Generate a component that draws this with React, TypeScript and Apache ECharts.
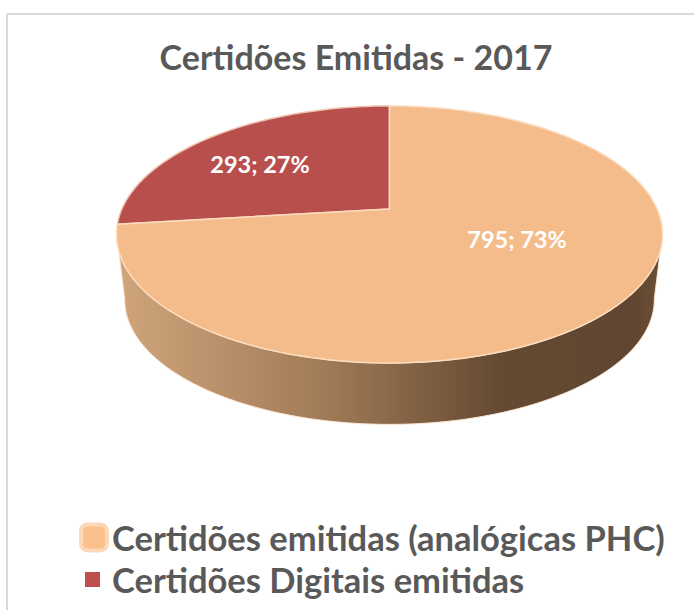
import React, { useEffect, useRef } from "react";
import * as echarts from "echarts";

const TITLE = "Certidões Emitidas - 2017";
const categories = ["Certidões emitidas (analógicas PHC)", "Certidões Digitais emitidas"];
const values = [795, 293];
const percents = [73, 27];

const sliceColors = ["#F5BC8B", "#B94F4C"];
const sliceEdges = ["#FCDDBF", "#EFC4B0"];
const FONT = "Lato, Carlito, 'Open Sans', sans-serif";

// Projective view of the pie's unit circle
const APEX = { x: 389.5, y: 209 };
const SCALE_X = 267.6;
const SCALE_Y = 123.5;
const TILT = 0.198;
const WALL_DROP = 66;
const WALL_SHRINK = 0.97;
const WALL_START = 101;
const WALL_END = 259;
const LABEL_ANCHORS = [
  { x: 517, y: 239 },
  { x: 260, y: 164 },
];

const total = values.reduce((a, b) => a + b, 0);

function project(deg: number, shrink = 1, drop = 0): number[] {
  const t = (deg * Math.PI) / 180;
  const ux = Math.sin(t);
  const uy = -Math.cos(t);
  const w = 1 - TILT * uy;
  return [
    APEX.x + (shrink * SCALE_X * ux) / w,
    APEX.y + (shrink * SCALE_Y * uy) / w + drop,
  ];
}

function arc(from: number, to: number, shrink = 1, drop = 0): number[][] {
  const pts: number[][] = [];
  const n = Math.max(2, Math.ceil(Math.abs(to - from)));
  for (let i = 0; i <= n; i++) pts.push(project(from + ((to - from) * i) / n, shrink, drop));
  return pts;
}

function sliceRenderer(index: number) {
  const startValue = values.slice(0, index).reduce((a, b) => a + b, 0);
  return (_params: any, api: any) => {
    const value = api.value(0);
    const a0 = (startValue / total) * 360;
    const a1 = ((startValue + value) / total) * 360;
    const children: any[] = [];
    const wallFrom = Math.max(a0, WALL_START);
    const wallTo = Math.min(a1, WALL_END);
    if (wallTo > wallFrom) {
      children.push({
        type: "polygon",
        shape: {
          points: [
            ...arc(wallFrom, wallTo),
            ...arc(wallTo, wallFrom, WALL_SHRINK, WALL_DROP),
          ],
        },
        style: {
          fill: new echarts.graphic.LinearGradient(1, 0, 0, 0, [
            { offset: 0, color: "#6C4E35" },
            { offset: 0.06, color: "#604630" },
            { offset: 0.3, color: "#654A33" },
            { offset: 0.62, color: "#A17B57" },
            { offset: 1, color: "#D0A57C" },
          ]),
          stroke: "#FBE6D3",
          lineWidth: 1,
        },
      });
    }
    children.push({
      type: "polygon",
      shape: { points: [[APEX.x, APEX.y], ...arc(a0, a1)] },
      style: { fill: sliceColors[index], stroke: sliceEdges[index], lineWidth: 1.5 },
    });
    children.push({
      type: "text",
      style: {
        text: `${value}; ${percents[index]}%`,
        x: LABEL_ANCHORS[index].x,
        y: LABEL_ANCHORS[index].y,
        fill: "#FFFFFF",
        font: `bold 23.5px ${FONT}`,
        align: "center",
        verticalAlign: "middle",
      },
    });
    return { type: "group", children };
  };
}

const legendText = { color: "#595959", fontSize: 34.5, fontWeight: "bold" as const, fontFamily: FONT };

export default function App() {
  const ref = useRef<HTMLDivElement>(null);
  useEffect(() => {
    const chart = echarts.init(ref.current!, undefined, { renderer: "svg" });
    chart.setOption({
      animation: false,
      backgroundColor: "#FFFFFF",
      title: {
        text: TITLE,
        left: 356,
        top: 39,
        textAlign: "center",
        padding: 0,
        textStyle: { color: "#595959", fontSize: 34, fontWeight: "bold", fontFamily: FONT },
      },
      legend: [
        {
          data: [{ name: categories[0], icon: "roundRect", itemStyle: { color: "#FBC08C", borderColor: "#FDD8B8", borderWidth: 4 } }],
          left: 79,
          top: 520,
          padding: 0,
          itemWidth: 26,
          itemHeight: 26,
          itemGap: 0,
          selectedMode: false,
          textStyle: { ...legendText, padding: [0, 0, 0, 0] },
        },
        {
          data: [{ name: categories[1], icon: "rect", itemStyle: { color: "#BE4F4C", borderWidth: 0 } }],
          left: 85,
          top: 562,
          padding: 0,
          itemWidth: 15,
          itemHeight: 15,
          itemGap: 0,
          selectedMode: false,
          textStyle: { ...legendText, padding: [0, 0, 0, 7] },
        },
      ],
      graphic: [
        { type: "line", shape: { x1: 7, y1: 14, x2: 694, y2: 14 }, style: { stroke: "#D9D9D9", lineWidth: 2 } },
        { type: "line", shape: { x1: 7, y1: 14, x2: 7, y2: 610 }, style: { stroke: "#D9D9D9", lineWidth: 2 } },
      ],
      series: [1, 0].map((i) => ({
        type: "custom",
        name: categories[i],
        coordinateSystem: "none",
        itemStyle: { color: sliceColors[i] },
        data: [[values[i]]],
        renderItem: sliceRenderer(i),
      })),
    });
    return () => chart.dispose();
  }, []);
  return (
    <div
      ref={ref}
      style={{ position: "fixed", left: 0, top: 0, width: 694, height: 610 }}
    />
  );
}
